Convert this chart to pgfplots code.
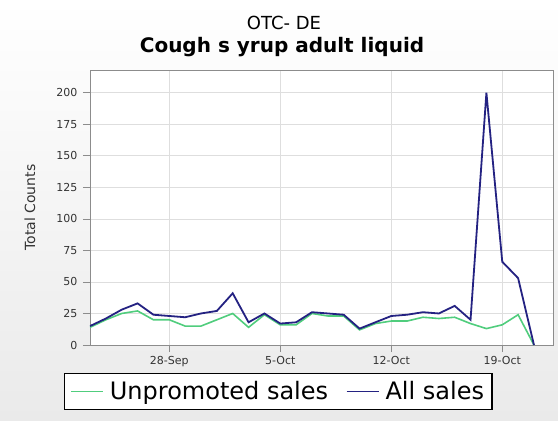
\documentclass[border=0pt]{standalone}
\usepackage{pgfplots}
\pgfplotsset{compat=1.18}
\usepackage{pgfplotstable}
\usepackage{fontspec}
\setmainfont{DejaVu Sans}
\definecolor{allc}{RGB}{36,34,130}
\definecolor{unpc}{RGB}{80,205,125}
\definecolor{gridc}{RGB}{222,222,222}
\definecolor{framec}{RGB}{140,140,140}

\pgfplotstableread{
d   unpro  all
-5  14  15
-4  20  21
-3  25  28
-2  27  33
-1  20  24
0   20  23
1   15  22
2   15  25
3   20  27
4   25  41
5   14  18
6   24  25
7   16  17
8   16  18
9   25  26
10  23  25
11  23  24
12  12  13
13  17  18
14  19  23
15  19  24
16  22  26
17  21  25
18  22  31
19  17  20
20  13  200
21  16  66
22  24  53
23  0   0
}\datatable

\begin{document}
\begin{tikzpicture}
\shade[top color=white, bottom color={rgb,255:red,234;green,234;blue,234}] (-90pt,-76pt) rectangle (468pt,345pt);
\useasboundingbox (-90pt,-76pt) rectangle (468pt,345pt);
\begin{axis}[
  at={(0pt,0pt)}, anchor=south west,
  scale only axis, width=463pt, height=275pt,
  xmin=-5, xmax=24.2, ymin=0, ymax=218,
  axis background/.style={fill=white},
  xtick={0,7,14,21},
  xticklabels={28-Sep,5-Oct,12-Oct,19-Oct},
  ytick={0,25,50,75,100,125,150,175,200},
  /pgf/number format/assume math mode=true,
  xtick pos=bottom, ytick pos=left,
  tick align=outside,
  major tick length=7pt,
  tick style={framec, line width=0.6pt},
  axis line style={framec, line width=0.8pt},
  grid=major,
  major grid style={gridc, line width=0.7pt},
  ticklabel style={font=\fontsize{11}{13}\selectfont, text=black!80},
  xticklabel style={yshift=-1pt},
  yticklabel style={xshift=-2pt},
  ylabel={Total Counts},
  every axis y label/.style={at={(axis description cs:-0.13,0.5)}, anchor=center, rotate=90, font=\fontsize{14}{16}\selectfont, text=black!80},
  legend style={at={(-0.0562,-0.1018)}, anchor=north west, draw=black, line width=1.2pt, fill=white,
    font=\fontsize{24}{28}\selectfont, inner xsep=6pt, inner ysep=6pt,
    /tikz/every even column/.append style={column sep=16pt}},
  legend columns=2,
  legend image code/.code={\draw[#1, line width=1pt] (0pt,0pt) -- (32pt,0pt); \path (36pt,0pt);},
]
\addplot[unpc, line width=1.6pt] table[x=d, y=unpro] {\datatable};
\addlegendentry{Unpromoted sales}
\addplot[allc, line width=1.8pt] table[x=d, y=all] {\datatable};
\addlegendentry{All sales}
\end{axis}
\node[anchor=base, font=\fontsize{18}{20}\selectfont] at (194pt,315pt) {OTC- DE};
\node[anchor=base, font=\fontsize{20}{22}\selectfont\bfseries] at (192pt,292pt) {Cough s yrup adult liquid};
\end{tikzpicture}
\end{document}
